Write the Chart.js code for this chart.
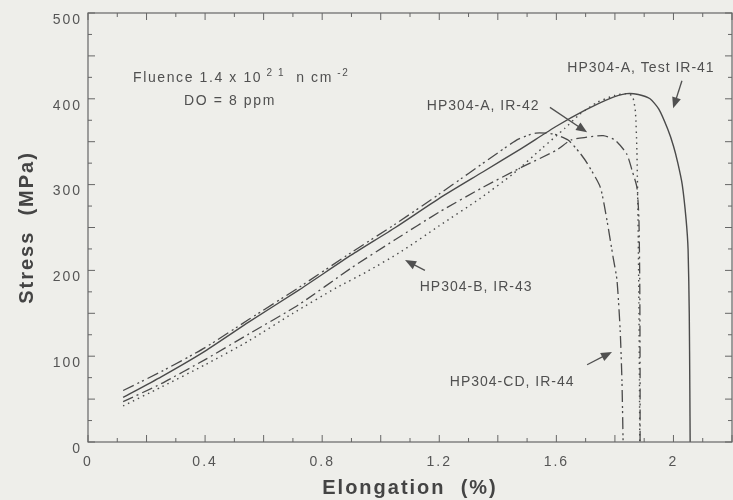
<!DOCTYPE html>
<html>
<head>
<meta charset="utf-8">
<script src="https://cdn.jsdelivr.net/npm/chart.js@4/dist/chart.umd.min.js"></script>
<style>
html, body { margin: 0; padding: 0; background: #eeeeea; }
#wrap { width: 733px; height: 500px; position: relative; }
</style>
</head>
<body>
<div id="wrap"><canvas id="chart"></canvas></div>
<script>
// stress-strain curves
let seriesNames = ['HP304-A, Test IR-41', 'HP304-A, IR-42', 'HP304-B, IR-43', 'HP304-CD, IR-44'];

let ir41X = [0.12, 0.25, 0.4, 0.55, 0.72, 0.9, 1.05, 1.2, 1.35, 1.48, 1.6, 1.7, 1.78, 1.84, 1.88, 1.92, 1.95, 1.98, 2.0, 2.015, 2.03, 2.043, 2.05, 2.054, 2.056, 2.057];
let ir41Y = [52, 76, 106, 140, 177, 218, 250, 284, 315, 342, 368, 387, 400, 406, 405, 400, 388, 365, 345, 325, 300, 260, 224, 150, 60, 0];

let ir42X = [0.12, 0.25, 0.4, 0.55, 0.72, 0.9, 1.05, 1.2, 1.35, 1.48, 1.6, 1.65, 1.7, 1.76, 1.8, 1.84, 1.86, 1.875, 1.882, 1.885, 1.886, 1.886];
let ir42Y = [47, 68, 96, 126, 160, 203, 236, 268, 297, 320, 340, 352, 355, 357, 352, 336, 315, 297, 260, 180, 80, 0];

let ir43X = [0.12, 0.25, 0.4, 0.55, 0.7, 0.85, 0.95, 1.07, 1.2, 1.34, 1.45, 1.55, 1.63, 1.68, 1.74, 1.8, 1.84, 1.86, 1.87, 1.875, 1.879, 1.882, 1.884, 1.885];
let ir43Y = [42, 64, 90, 118, 150, 180, 198, 222, 252, 284, 312, 342, 366, 382, 396, 404, 406, 403, 385, 340, 260, 160, 60, 0];

let ir44X = [0.12, 0.25, 0.4, 0.55, 0.72, 0.9, 1.05, 1.2, 1.3, 1.4, 1.47, 1.53, 1.59, 1.64, 1.68, 1.705, 1.75, 1.773, 1.794, 1.807, 1.818, 1.824, 1.828];
let ir44Y = [60, 82, 110, 143, 180, 221, 254, 289, 313, 337, 353, 360, 359, 352, 337, 325, 297, 258, 215, 189, 130, 72, 0];

let xTickLabels = [0, 0.4, 0.8, 1.2, 1.6, 2];
let yTickLabels = [0, 100, 200, 300, 400, 500];

// label text and arrows, in data units
let notes = [
    { text: 'HP304-A, Test IR-41', x: 1.889, y: 436 },
    { text: 'HP304-A, IR-42', x: 1.35, y: 392 },
    { text: 'HP304-B, IR-43', x: 1.326, y: 180 },
    { text: 'HP304-CD, IR-44', x: 1.449, y: 70 }
];
let arrows = [
    { from: [2.029, 421], to: [1.999, 389] },
    { from: [1.578, 390], to: [1.705, 361] },
    { from: [1.151, 200], to: [1.083, 212] },
    { from: [1.705, 90], to: [1.79, 105] }
];

const ink = '#4a4a4a';

function pts(xs, ys) {
    return xs.map((v, i) => ({ x: v, y: ys[i] }));
}

function near(v, step) {
    return Math.abs(v / step - Math.round(v / step)) < 1e-6;
}

const spacing = {
    id: 'spacing',
    beforeLayout(chart) { chart.ctx.letterSpacing = '2px'; },
    beforeDraw(chart) { chart.ctx.letterSpacing = '2px'; }
};

const frame = {
    id: 'frame',
    afterDraw(chart) {
        const { ctx, chartArea: a, scales: { x, y } } = chart;
        ctx.save();
        ctx.strokeStyle = '#666';
        ctx.lineWidth = 1.2;
        ctx.strokeRect(a.left, a.top, a.right - a.left, a.bottom - a.top);
        ctx.lineWidth = 1;
        ctx.beginPath();
        x.ticks.forEach(t => {
            const px = x.getPixelForValue(t.value);
            const len = near(t.value, 0.2) ? 7 : 4;
            ctx.moveTo(px, a.bottom); ctx.lineTo(px, a.bottom - len);
            ctx.moveTo(px, a.top); ctx.lineTo(px, a.top + len);
        });
        y.ticks.forEach(t => {
            const py = y.getPixelForValue(t.value);
            const len = near(t.value, 50) ? 7 : 4;
            ctx.moveTo(a.left, py); ctx.lineTo(a.left + len, py);
            ctx.moveTo(a.right, py); ctx.lineTo(a.right - len, py);
        });
        ctx.stroke();
        ctx.restore();
    }
};

const labels = {
    id: 'labels',
    afterDraw(chart) {
        const { ctx, scales: { x, y } } = chart;
        ctx.save();
        ctx.fillStyle = '#505050';
        ctx.strokeStyle = '#505050';
        ctx.textBaseline = 'middle';
        ctx.textAlign = 'center';
        ctx.font = '14px "Liberation Sans", Arial, sans-serif';
        ctx.letterSpacing = '1px';
        notes.forEach(n => ctx.fillText(n.text, x.getPixelForValue(n.x), y.getPixelForValue(n.y)));

        // arrows
        ctx.lineWidth = 1.3;
        arrows.forEach(ar => {
            const x0 = x.getPixelForValue(ar.from[0]), y0 = y.getPixelForValue(ar.from[1]);
            const x1 = x.getPixelForValue(ar.to[0]), y1 = y.getPixelForValue(ar.to[1]);
            const ang = Math.atan2(y1 - y0, x1 - x0);
            ctx.beginPath();
            ctx.moveTo(x0, y0);
            ctx.lineTo(x1 - 6 * Math.cos(ang), y1 - 6 * Math.sin(ang));
            ctx.stroke();
            ctx.beginPath();
            ctx.moveTo(x1, y1);
            ctx.lineTo(x1 - 11 * Math.cos(ang) + 4.5 * Math.sin(ang), y1 - 11 * Math.sin(ang) - 4.5 * Math.cos(ang));
            ctx.lineTo(x1 - 11 * Math.cos(ang) - 4.5 * Math.sin(ang), y1 - 11 * Math.sin(ang) + 4.5 * Math.cos(ang));
            ctx.closePath();
            ctx.fill();
        });

        // fluence text with superscripts
        ctx.textAlign = 'left';
        ctx.letterSpacing = '1.6px';
        let px = x.getPixelForValue(0.154);
        const py = y.getPixelForValue(424);
        const parts = [['Fluence 1.4 x 10', false], [' 2 1', true], ['  n cm', false], [' -2', true]];
        parts.forEach(([t, sup]) => {
            ctx.font = sup ? '10px "Liberation Sans", Arial, sans-serif' : '14px "Liberation Sans", Arial, sans-serif';
            ctx.fillText(t, px, sup ? py - 5 : py);
            px += ctx.measureText(t).width;
        });
        ctx.textAlign = 'center';
        ctx.font = '14px "Liberation Sans", Arial, sans-serif';
        ctx.fillText('DO = 8 ppm', x.getPixelForValue(0.485), y.getPixelForValue(397));
        ctx.restore();
    }
};

function initChart() {
    const ctx = document.getElementById('chart').getContext('2d');
    const styles = [
        { dash: [], width: 1.4 },
        { dash: [11, 4, 2, 4], width: 1.3 },
        { dash: [1.5, 4], width: 1.4 },
        { dash: [12, 4, 2, 3, 2, 4], width: 1.3 }
    ];
    const series = [pts(ir41X, ir41Y), pts(ir42X, ir42Y), pts(ir43X, ir43Y), pts(ir44X, ir44Y)];
    new Chart(ctx, {
        type: 'line',
        data: {
            datasets: series.map((d, i) => ({
                label: seriesNames[i],
                data: d,
                borderColor: ink,
                borderWidth: styles[i].width,
                borderDash: styles[i].dash,
                pointRadius: 0,
                tension: 0.2,
                fill: false
            }))
        },
        options: {
            responsive: true,
            maintainAspectRatio: false,
            animation: false,
            devicePixelRatio: 1,
            layout: { padding: { top: 13, right: 1, left: 0, bottom: 0 } },
            plugins: {
                legend: { display: false },
                tooltip: { enabled: false }
            },
            scales: {
                x: {
                    type: 'linear',
                    min: 0,
                    max: 2.2,
                    grid: { display: false, drawTicks: false },
                    border: { display: false },
                    ticks: {
                        stepSize: 0.1,
                        autoSkip: false,
                        maxRotation: 0,
                        padding: 12,
                        color: '#555',
                        font: { family: '"Liberation Sans", Arial, sans-serif', size: 14 },
                        callback: v => xTickLabels.some(t => Math.abs(t - v) < 1e-6) ? String(Number(v.toFixed(1))) : ''
                    },
                    title: {
                        display: true,
                        text: 'Elongation  (%)',
                        color: '#444',
                        padding: { top: 1, bottom: 0 },
                        font: { family: '"Liberation Sans", Arial, sans-serif', size: 20, weight: 'bold' }
                    },
                    afterFit: s => { s.height = 58; s.paddingLeft = 0; s.paddingRight = 0; }
                },
                y: {
                    type: 'linear',
                    min: 0,
                    max: 500,
                    grid: { display: false, drawTicks: false },
                    border: { display: false },
                    ticks: {
                        stepSize: 25,
                        autoSkip: false,
                        padding: 6,
                        labelOffset: 7,
                        color: '#555',
                        font: { family: '"Liberation Sans", Arial, sans-serif', size: 14 },
                        callback: v => yTickLabels.includes(v) ? String(v) : ''
                    },
                    title: {
                        display: true,
                        text: 'Stress  (MPa)',
                        color: '#444',
                        padding: { top: 15, bottom: 0 },
                        font: { family: '"Liberation Sans", Arial, sans-serif', size: 20, weight: 'bold' }
                    },
                    afterFit: s => { s.width = 88; s.paddingTop = 0; s.paddingBottom = 0; }
                }
            }
        },
        plugins: [spacing, frame, labels]
    });
}

initChart();
</script>
</body>
</html>
